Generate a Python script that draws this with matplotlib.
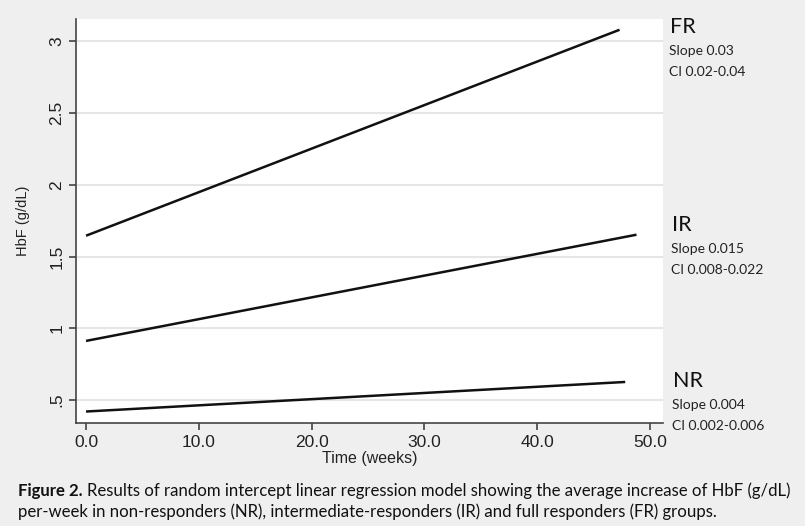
import matplotlib.pyplot as plt
import numpy as np

# fitted lines (weeks, HbF g/dL)
groups = ["FR", "IR", "NR"]
x_start = [0.0, 0.0, 0.0]
x_end = [47.3, 48.8, 47.8]
y_start = [1.645, 0.912, 0.42]
y_end = [3.08, 1.652, 0.626]
slopes = ["0.03", "0.015", "0.004"]
cis = ["0.02-0.04", "0.008-0.022", "0.002-0.006"]

xticks = [0, 10, 20, 30, 40, 50]
yticks = [0.5, 1, 1.5, 2, 2.5, 3]
ytick_labels = [".5", "1", "1.5", "2", "2.5", "3"]

bg = "#efefef"
W, H = 805, 526
fig = plt.figure(figsize=(W / 100, H / 100), dpi=100, facecolor=bg)
ax = fig.add_axes([76 / W, 1 - 423 / H, (663 - 76) / W, (423 - 19) / H])
ax.set_facecolor("white")

for i in range(len(groups)):
    ax.plot([x_start[i], x_end[i]], [y_start[i], y_end[i]], color="#111111", lw=1.8,
            solid_capstyle="butt")

ax.set_xlim(-0.89, 51.15)
ax.set_ylim(0.34, 3.155)
ax.set_xticks(xticks)
ax.set_xticklabels(["%.1f" % t for t in xticks])
ax.set_yticks(yticks)
ax.set_yticklabels(ytick_labels, rotation=90, va="center")
ax.grid(axis="y", color="#e6e6e6", lw=1.5)
ax.set_axisbelow(True)
for s in ["top", "right"]:
    ax.spines[s].set_visible(False)
for s in ["left", "bottom"]:
    ax.spines[s].set_color("#444444")
    ax.spines[s].set_linewidth(1.2)
ax.tick_params(length=5, width=1.2, color="#444444", labelsize=12.5,
               labelcolor="#222222")
for lab in ax.get_xticklabels() + ax.get_yticklabels():
    lab.set_fontfamily("Liberation Sans")
ax.set_xlabel("Time (weeks)", fontsize=11.5, family="Liberation Sans", labelpad=1,
              color="#222222")
ax.set_ylabel("HbF (g/dL)", fontsize=10.5, family="Liberation Sans", labelpad=14,
              color="#222222")

# group labels at right margin
lab_pos = [(670, 27), (672, 225), (673, 381)]
for i, g in enumerate(groups):
    px, py = lab_pos[i]
    fig.text(px / W, 1 - py / H, g, fontsize=15.5, family="Lato", va="center",
             color="#111111")
    fig.text((px - 1) / W, 1 - (py + 24) / H, "Slope " + slopes[i], fontsize=10,
             family="Lato", va="center", color="#222222")
    fig.text((px - 1) / W, 1 - (py + 45) / H, "CI " + cis[i], fontsize=10,
             family="Lato", va="center", color="#222222")

cap1 = "Results of random intercept linear regression model showing the average increase of HbF (g/dL)"
cap2 = "per-week in non-responders (NR), intermediate-responders (IR) and full responders (FR) groups."
t = fig.text(18 / W, 1 - 491 / H, "Figure 2.", fontsize=12.1, family="Lato",
             weight="bold", va="center", color="#111111")
fig.canvas.draw()
bb = t.get_window_extent()
fig.text((bb.x1 + 4) / W, 1 - 491 / H, cap1, fontsize=12.1, family="Lato",
         va="center", color="#111111")
fig.text(18 / W, 1 - 512 / H, cap2, fontsize=12.1, family="Lato", va="center",
         color="#111111")

fig.savefig("out.png", dpi=100, facecolor=bg)
